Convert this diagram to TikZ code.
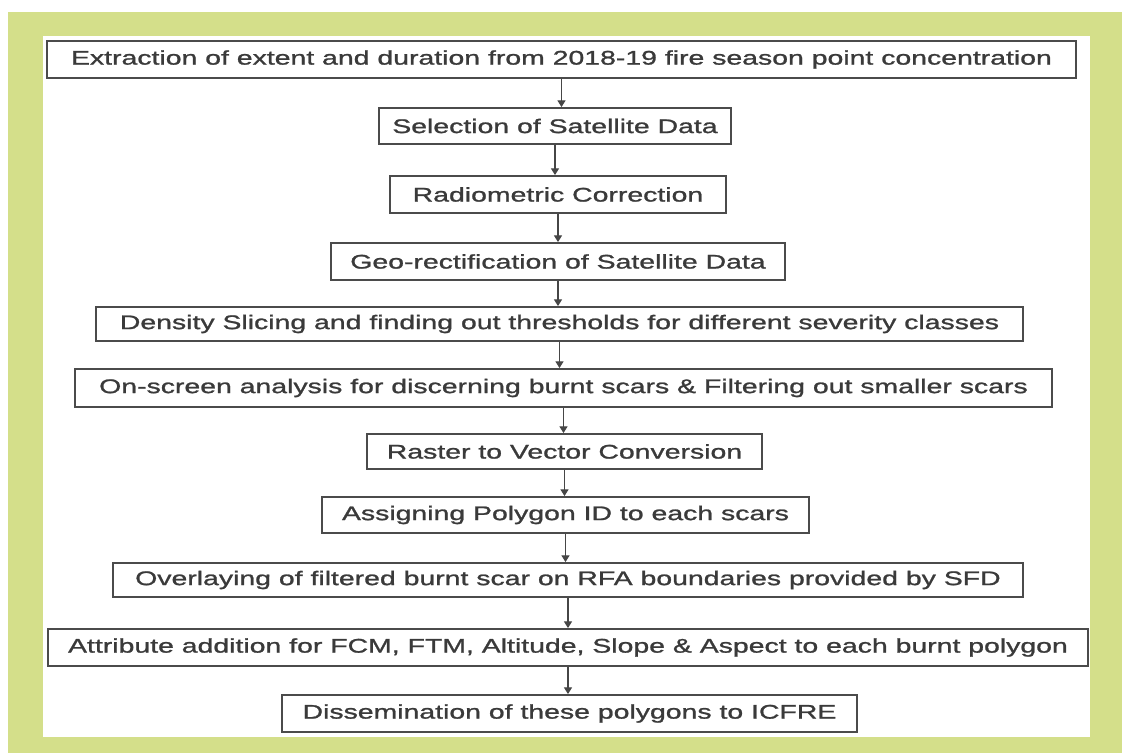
\documentclass[tikz,border=0pt]{standalone}
\usepackage{fontspec}
\setmainfont[FakeStretch=1.44, FakeBold=1.2]{Liberation Sans}
\usetikzlibrary{arrows.meta}
\definecolor{frame}{RGB}{212,223,138}
\definecolor{boxline}{RGB}{75,75,75}
\definecolor{boxtext}{RGB}{58,58,58}
\definecolor{arrowline}{RGB}{70,70,70}
\tikzset{
  stepbox/.style={draw=boxline, line width=1.4pt, fill=white, inner sep=0pt,
    text=boxtext, font=\fontsize{14.8}{17}\selectfont, align=center},
  flowarrow/.style={draw=arrowline, line width=0.8pt,
    -{Triangle[length=5pt,width=6pt]}}
}
% name, left, top, right, bottom, text (pixel grid, y downwards)
\newcommand{\flowbox}[6]{%
  \node[stepbox, minimum width={(#4-#2)*0.75pt}, minimum height={(#5-#3)*0.75pt}]
    (#1) at ({(#2+#4)/2},{(#3+#5)/2}) {#6};}
\begin{document}
\begin{tikzpicture}[x=0.75pt, y=-0.75pt]
\useasboundingbox (0,0) rectangle (1122,753);
% green frame and white panel
\fill[white] (0,0) rectangle (1122,753);
\fill[frame] (8,12) rectangle (1122,753);
\fill[white] (43,36) rectangle (1090,737);

\flowbox{s1}{47}{41}{1076}{78}{Extraction of extent and duration from 2018-19 fire season point concentration}
\flowbox{s2}{379}{108}{731}{144}{Selection of Satellite Data}
\flowbox{s3}{390}{176}{726}{213}{Radiometric Correction}
\flowbox{s4}{331}{243}{785}{280}{Geo-rectification of Satellite Data}
\flowbox{s5}{96}{307}{1023}{341}{Density Slicing and finding out thresholds for different severity classes}
\flowbox{s6}{75}{369}{1052}{407}{On-screen analysis for discerning burnt scars \& Filtering out smaller scars}
\flowbox{s7}{367}{434}{762}{469}{Raster to Vector Conversion}
\flowbox{s8}{322}{497}{809}{533}{Assigning Polygon ID to each scars}
\flowbox{s9}{113}{563}{1023}{597}{Overlaying of filtered burnt scar on RFA boundaries provided by SFD}
\flowbox{s10}{48}{629}{1088}{666}{Attribute addition for FCM, FTM, Altitude, Slope \& Aspect to each burnt polygon}
\flowbox{s11}{282}{695}{857}{732}{Dissemination of these polygons to ICFRE}

\foreach \a/\b in {s1/s2, s2/s3, s3/s4, s4/s5, s5/s6, s6/s7, s7/s8, s8/s9, s9/s10, s10/s11}
  \draw[flowarrow] (\a.south) -- (\a.south |- \b.north);
\end{tikzpicture}
\end{document}
